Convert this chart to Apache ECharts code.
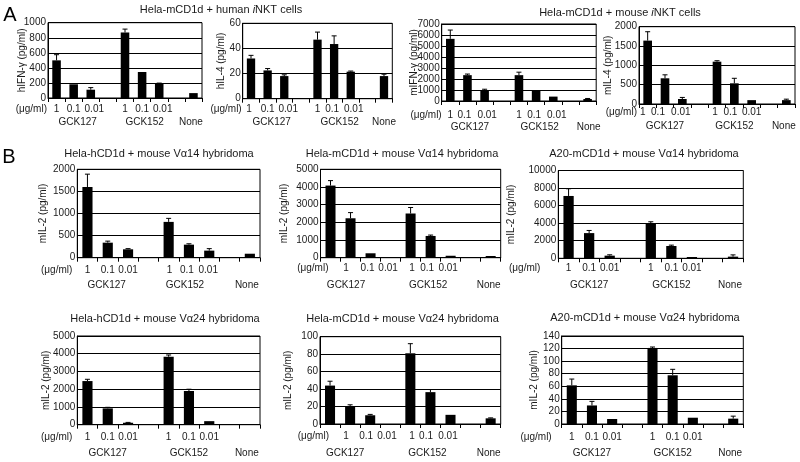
<!DOCTYPE html>
<html><head><meta charset="utf-8">
<script src="https://cdn.jsdelivr.net/npm/echarts@6/dist/echarts.min.js"></script>
<style>html,body{margin:0;padding:0;background:#fff}#c{width:800px;height:462px}</style>
</head><body><div id="c"></div>
<script>
// ---- categories / tick labels ----
const doseLabels = ['1','0.1','0.01','','1','0.1','0.01','',''];
const compoundLabels = ['','GCK127','','','','GCK152','','','None'];
const unitLabel = '(\u03bcg/ml)';

// ---- panel A values (mean, upper error) ----
const hIFNg    = [500,182,110,null,870,345,190,null,65];
const hIFNgErr = [75,0,28,0,45,0,8,0,0];
const hIL4     = [32,22.5,18,null,47,43.5,21.5,null,18];
const hIL4Err  = [2.5,1.5,1,0,6,6.5,0.5,0,1.5];
const mIFNg    = [5650,2350,950,null,2350,950,400,null,180];
const mIFNgErr = [800,100,120,0,270,0,0,0,50];
const mIL4     = [1640,665,130,null,1095,535,100,null,100];
const mIL4Err  = [230,90,40,0,25,130,0,0,25];

// ---- panel B values ----
const hV14     = [1600,340,190,null,810,295,160,null,90];
const hV14Err  = [290,35,15,0,80,20,45,0,0];
const mV14     = [4080,2230,250,null,2500,1230,110,null,95];
const mV14Err  = [280,320,0,0,340,50,0,0,0];
const aV14     = [7100,2870,300,null,3960,1400,150,null,190];
const aV14Err  = [820,300,100,0,200,100,0,0,200];
const hV24     = [2460,920,110,null,3830,1900,200,null,0];
const hV24Err  = [100,60,20,0,100,100,0,0,0];
const mV24     = [44,20,10,null,81,36.5,10.5,null,6.5];
const mV24Err  = [5,2,1,0,11,3,0,0,0.5];
const aV24     = [61.5,29.5,8,null,121,77.5,10,null,8.5];
const aV24Err  = [10,6.5,0,0,1.5,9.5,0,0,4];

// ---- axis scales ----
const yMaxes     = [1000,60,7000,2000, 2000,5000,10000, 5000,100,140];
const yIntervals = [200,20,1000,500, 500,1000,2000, 1000,20,20];
const yNames = ['hIFN-\u03b3 (pg/ml)','hIL-4 (pg/ml)','mIFN-\u03b3 (pg/ml)','mIL-4 (pg/ml)',
  'mIL-2 (pg/ml)','mIL-2 (pg/ml)','mIL-2 (pg/ml)','mIL-2 (pg/ml)','mIL-2 (pg/ml)','mIL-2 (pg/ml)'];
const panelValues = [hIFNg,hIL4,mIFNg,mIL4,hV14,mV14,aV14,hV24,mV24,aV24];
const panelErrors = [hIFNgErr,hIL4Err,mIFNgErr,mIL4Err,hV14Err,mV14Err,aV14Err,hV24Err,mV24Err,aV24Err];

// ---- titles ----
const titleTexts = [
  'Hela-mCD1d + human {it|i}NKT cells',
  'Hela-mCD1d + mouse {it|i}NKT cells',
  'Hela-hCD1d + mouse V\u03b114 hybridoma',
  'Hela-mCD1d + mouse V\u03b114 hybridoma',
  'A20-mCD1d + mouse V\u03b114 hybridoma',
  'Hela-hCD1d + mouse V\u03b124 hybridoma',
  'Hela-mCD1d + mouse V\u03b124 hybridoma',
  'A20-mCD1d + mouse V\u03b124 hybridoma'
];
const panelLetters = ['A','B'];

// ---- layout (positions / styles only) ----
const layout = [
  {left:48,    top:22.7,  width:154,   height:75.3, yGap:21, off:11,   lh:13, uGap:1},
  {left:242.7, top:23.3,  width:149.6, height:75.4, yGap:16, off:10.3, lh:13, uGap:1},
  {left:441.7, top:24,    width:154.5, height:77,   yGap:22, off:14,   lh:12, uGap:0},
  {left:639,   top:26.7,  width:156,   height:77.3, yGap:26, off:8,    lh:14, uGap:2},
  {left:77.3,  top:169.3, width:182.7, height:88.4, yGap:29, off:12.3, lh:15, uGap:5},
  {left:320.5, top:169.3, width:180.2, height:88.4, yGap:31, off:10.6, lh:16.5, uGap:-8},
  {left:558.3, top:170.5, width:185,   height:87.8, yGap:42, off:10,   lh:17, uGap:18},
  {left:77.3,  top:336,   width:182.7, height:88.7, yGap:26, off:12.3, lh:16, uGap:5},
  {left:320,   top:336.7, width:180.7, height:87.3, yGap:27, off:12.7, lh:16.5, uGap:-9},
  {left:561.7, top:336,   width:181.6, height:88,   yGap:22, off:13,   lh:16, uGap:10}
];
// horizontal nudges of individual category labels (px), dose row and compound row
const doseShift = [
  [0,0,3.5,0,0,0,3.5,0,0],
  [-2,0,4,0,0,-2,3,0,0],
  [0,-3,2.5,0,0,-2,3.5,0,0],
  [-5,-7,-1.5,0,-2,-4,0,0,0],
  [0,0,0,0,1,-2,-1,0,0],
  [15.5,17,17.5,0,1.5,-3.5,-2.5,0,0],
  [0,0,0,0,0,0,0,0,0],
  [0,0,0,0,0,0,0,0,0],
  [16,16,16.8,0,1.6,-4.4,-2.5,0,0],
  [0,0,0,0,0,0,0,0,0]
];
const compShift = [
  [0,4,0,0,0,2.5,0,0,-2.5],
  [0,4,0,0,0,5.5,0,0,0],
  [0,2.5,0,0,0,3.5,0,0,1],
  [0,0,0,0,0,0,0,0,-2.5],
  [0,-1,0,0,0,-4,0,0,-3],
  [0,-4.5,0,0,0,-2.5,0,0,-2],
  [0,0,0,0,0,0,0,0,-3],
  [0,0,0,0,0,0,0,0,-3],
  [0,-5,0,0,0,-3,0,0,-2],
  [0,0,0,0,0,0,0,0,-3]
];
const titlePos = [[221,9.5],[620,12.5],[159,154],[402,154],[644,153.5],[165,319],[402.5,319],[645,318]];
const letterPos = [[10,15],[9,157]];

const FONT = "'Liberation Sans', Arial, Helvetica, sans-serif";
const TXT = '#1a1a1a';

function pad(s) { return s >= 0 ? [0,0,0,2*s] : [0,-2*s,0,0]; }

const grids = [], xAxes = [], yAxes = [], series = [], graphics = [];
layout.forEach((L, gi) => {
  grids.push({left:L.left, top:L.top, width:L.width, height:L.height, show:true,
    borderColor:'#000', borderWidth:1, backgroundColor:'transparent', containLabel:false, outerBoundsMode:'none'});
  const rich = {};
  for (let k = 0; k < 9; k++) {
    rich['d' + k] = {fontSize:10, fontFamily:FONT, color:TXT, lineHeight:L.lh, padding:pad(doseShift[gi][k])};
    rich['c' + k] = {fontSize:10, fontFamily:FONT, color:TXT, lineHeight:L.lh, padding:pad(compShift[gi][k])};
  }
  xAxes.push({
    type:'category', gridIndex:gi, data:doseLabels, boundaryGap:true,
    axisLine:{show:true, lineStyle:{color:'#000', width:1}},
    axisTick:{show:true, length:4, interval:0, lineStyle:{color:'#000'}},
    axisLabel:{interval:0, margin:L.off - L.lh/2, color:TXT, fontSize:10, fontFamily:FONT, lineHeight:L.lh,
      hideOverlap:false, rich:rich,
      formatter:(v, idx) => {
        const d = doseLabels[idx], c = compoundLabels[idx];
        return (d ? '{d' + idx + '|' + d + '}' : ' ') + '\n' + (c ? '{c' + idx + '|' + c + '}' : ' ');
      }},
    splitLine:{show:false}
  });
  yAxes.push({
    type:'value', gridIndex:gi, min:0, max:yMaxes[gi], interval:yIntervals[gi],
    axisLine:{show:true, lineStyle:{color:'#000', width:1}},
    axisTick:{show:false},
    axisLabel:{margin:2, color:TXT, fontSize:10, fontFamily:FONT, formatter:v => String(v)},
    splitLine:{show:true, lineStyle:{color:'#000', width:1}},
    name:yNames[gi], nameLocation:'middle', nameGap:L.yGap, nameMoveOverlap:false,
    nameTextStyle:{color:TXT, fontSize:10, fontFamily:FONT}
  });
  graphics.push({type:'text', x:L.left - L.uGap, y:L.top + L.height + L.off,
    style:{text:unitLabel, fill:TXT, font:'10px ' + FONT, textAlign:'right', textVerticalAlign:'middle'}});
  series.push({
    type:'bar', xAxisIndex:gi, yAxisIndex:gi, data:panelValues[gi], barWidth:'50%',
    itemStyle:{color:'#000'}, silent:true, animation:false
  });
  const ev = panelValues[gi].map((v, i) => [i, v, v == null ? null : v + panelErrors[gi][i]])
    .filter(d => d[1] != null && d[2] > d[1]);
  series.push({
    type:'custom', xAxisIndex:gi, yAxisIndex:gi, data:ev, encode:{x:0, y:[1,2]},
    animation:false, silent:true, z:3,
    renderItem:(params, api) => {
      const i = api.value(0), lo = api.value(1), hi = api.value(2);
      const p0 = api.coord([i, lo]), p1 = api.coord([i, hi]);
      const hw = 2.5;
      return {type:'group', children:[
        {type:'line', shape:{x1:p0[0], y1:p0[1], x2:p1[0], y2:p1[1]}, style:{stroke:'#000', lineWidth:1}},
        {type:'line', shape:{x1:p1[0]-hw, y1:p1[1], x2:p1[0]+hw, y2:p1[1]}, style:{stroke:'#000', lineWidth:1}}
      ]};
    }
  });
});

const titles = titleTexts.map((t, i) => ({
  text:t, left:titlePos[i][0], top:titlePos[i][1], textAlign:'center', textVerticalAlign:'middle', padding:0,
  textStyle:{fontSize:11, fontWeight:'normal', color:TXT, fontFamily:FONT,
    rich:{it:{fontStyle:'italic', fontSize:11, color:TXT, fontFamily:FONT}}}
}));
panelLetters.forEach((t, i) => titles.push({
  text:t, left:letterPos[i][0], top:letterPos[i][1], textAlign:'center', textVerticalAlign:'middle', padding:0,
  textStyle:{fontSize:20, fontWeight:'normal', color:'#000', fontFamily:FONT}
}));

const chart = echarts.init(document.getElementById('c'), null, {renderer:'canvas'});
chart.setOption({
  animation:false, backgroundColor:'#fff',
  title:titles, grid:grids, xAxis:xAxes, yAxis:yAxes, series:series,
  graphic:{elements:graphics}
});
</script></body></html>
